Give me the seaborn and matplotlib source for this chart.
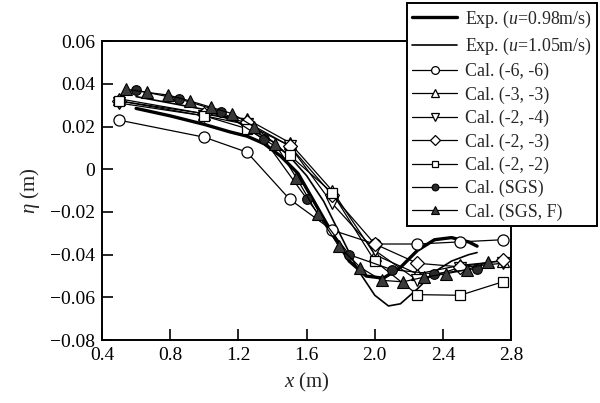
import numpy as np
import pandas as pd
import matplotlib
matplotlib.use("Agg")
import matplotlib.pyplot as plt
import seaborn as sns

# ---- data ----
exp098_x = [0.6, 0.8, 1.0, 1.15, 1.25, 1.35, 1.45, 1.55, 1.65, 1.75, 1.85, 1.95, 2.05, 2.15, 2.25, 2.35, 2.45, 2.55, 2.6]
exp098_y = [0.0285, 0.025, 0.021, 0.0175, 0.0155, 0.012, 0.006, -0.002, -0.016, -0.030, -0.043, -0.050, -0.051, -0.046, -0.038, -0.033, -0.032, -0.034, -0.036]
exp105_x = [0.6, 0.8, 1.0, 1.2, 1.4, 1.5, 1.6, 1.7, 1.8, 1.9, 2.0, 2.08, 2.15, 2.25, 2.35, 2.45, 2.55, 2.6]
exp105_y = [0.034, 0.031, 0.028, 0.022, 0.013, 0.006, -0.003, -0.015, -0.031, -0.047, -0.059, -0.064, -0.063, -0.056, -0.048, -0.043, -0.040, -0.039]

cal_x = [0.5, 1.0, 1.25, 1.5, 1.75, 2.0, 2.25, 2.5, 2.75]
cal66_y = [0.023, 0.015, 0.008, -0.014, -0.0285, -0.035, -0.035, -0.034, -0.033]
cal33_y = [0.033, 0.026, 0.0235, 0.0125, -0.010, -0.040, -0.049, -0.045, -0.043]
cal24_y = [0.031, 0.025, 0.021, 0.011, -0.016, -0.038, -0.052, -0.046, -0.044]
cal23_y = [0.032, 0.026, 0.022, 0.011, -0.012, -0.035, -0.044, -0.0457, -0.0426]
cal22_y = [0.032, 0.025, 0.019, 0.0066, -0.011, -0.043, -0.0587, -0.059, -0.0527]

sgs_x = [0.6, 0.85, 1.1, 1.35, 1.6, 1.85, 2.1, 2.35, 2.6]
sgs_y = [0.037, 0.033, 0.027, 0.014, -0.0137, -0.040, -0.047, -0.049, -0.0465]
sgsf_x = [0.54, 0.665, 0.79, 0.915, 1.04, 1.165, 1.29, 1.415, 1.54, 1.665, 1.79, 1.915, 2.04, 2.165, 2.29, 2.415, 2.54, 2.665]
sgsf_y = [0.0375, 0.036, 0.0347, 0.032, 0.029, 0.026, 0.020, 0.012, -0.004, -0.021, -0.036, -0.046, -0.052, -0.0527, -0.0505, -0.049, -0.047, -0.0435]

labels = ["Exp. ($u$=0.98m/s)", "Exp. ($u$=1.05m/s)", "Cal. (-6, -6)", "Cal. (-3, -3)",
          "Cal. (-2, -4)", "Cal. (-2, -3)", "Cal. (-2, -2)", "Cal. (SGS)", "Cal. (SGS, F)"]

xticks = [0.4, 0.8, 1.2, 1.6, 2.0, 2.4, 2.8]
xtick_labels = ["0.4", "0.8", "1.2", "1.6", "2.0", "2.4", "2.8"]
yticks = [0.06, 0.04, 0.02, 0.0, -0.02, -0.04, -0.06, -0.08]
ytick_labels = ["0.06", "0.04", "0.02", "0", "\u22120.02", "\u22120.04", "\u22120.06", "\u22120.08"]

# ---- style ----
sns.set_theme(style="ticks")
plt.rcParams['font.family'] = ['Liberation Serif', 'DejaVu Serif']
plt.rcParams['mathtext.fontset'] = 'custom'
plt.rcParams['mathtext.rm'] = 'Liberation Serif'
plt.rcParams['mathtext.it'] = 'Liberation Serif:italic'

fig = plt.figure(figsize=(6.0, 4.03), dpi=100)
ax = fig.add_axes([0.170, 0.156, 0.682, 0.742])

sns.lineplot(x=exp098_x, y=exp098_y, ax=ax, color="black", linewidth=2.4, label=labels[0])
sns.lineplot(x=exp105_x, y=exp105_y, ax=ax, color="black", linewidth=1.2, label=labels[1])

open_specs = [
    (cal66_y, "o", 8.0, labels[2]),
    (cal33_y, "^", 8.5, labels[3]),
    (cal24_y, "v", 8.5, labels[4]),
    (cal23_y, "D", 7.5, labels[5]),
    (cal22_y, "s", 7.0, labels[6]),
]
for yv, mk, ms, lab in open_specs:
    sns.lineplot(x=cal_x, y=yv, ax=ax, color="black", linewidth=0.9, marker=mk,
                 markersize=ms, markerfacecolor="white", markeredgecolor="black",
                 markeredgewidth=0.9, label=lab)

sns.lineplot(x=sgs_x, y=sgs_y, ax=ax, color="black", linewidth=0.9, marker="o",
             markersize=7.0, markerfacecolor="#2a2a2a", markeredgecolor="black",
             markeredgewidth=0.8, label=labels[7])
sns.lineplot(x=sgsf_x, y=sgsf_y, ax=ax, color="black", linewidth=0.9, marker="^",
             markersize=8.0, markerfacecolor="#3a3a3a", markeredgecolor="black",
             markeredgewidth=0.8, label=labels[8])

ax.set_xlim(0.4, 2.8)
ax.set_ylim(-0.08, 0.06)
ax.set_xticks(xticks)
ax.set_xticklabels(xtick_labels)
ax.set_yticks(yticks)
ax.set_yticklabels(ytick_labels)
ax.tick_params(direction="in", length=8, width=1.2, labelsize=14, colors="black", pad=5)
ax.tick_params(top=False, right=False)
for s in ax.spines.values():
    s.set_linewidth(1.4)
    s.set_color("black")
    s.set_visible(True)

ax.set_xlabel("$x$ (m)", fontsize=15, labelpad=5)
ax.set_ylabel("$\\eta$ (m)", fontsize=15, labelpad=6)

handles, labs = ax.get_legend_handles_labels()
ax.get_legend().remove()
leg = fig.legend(handles, labs, loc="upper left", bbox_to_anchor=(0.678, 0.992),
                 fontsize=12.9, frameon=True, fancybox=False, framealpha=1,
                 edgecolor="black", labelspacing=0.34, handlelength=2.5,
                 handletextpad=0.45, borderpad=0.3, borderaxespad=0,
                 markerscale=0.7)
leg.get_frame().set_linewidth(1.4)

fig.savefig("out.png", dpi=100)
